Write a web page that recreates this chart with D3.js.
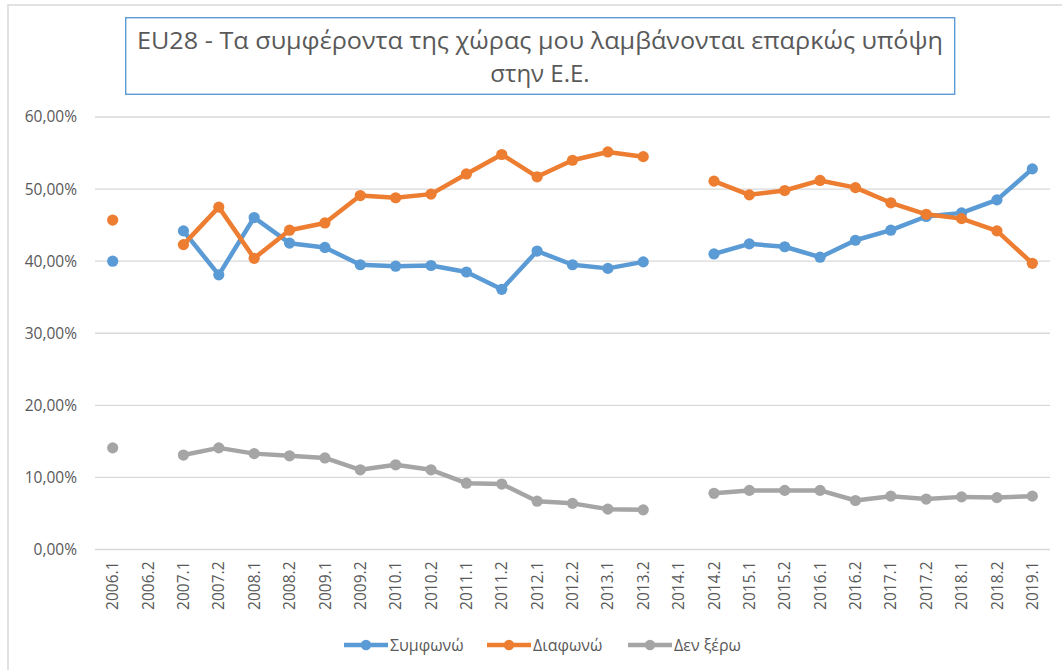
<!DOCTYPE html>
<html>
<head>
<meta charset="utf-8">
<script src="https://cdn.jsdelivr.net/npm/d3@7"></script>
<style>
  html, body { margin: 0; padding: 0; background: #fff; }
  svg { display: block; }
  text { font-family: "Open Sans", "Noto Sans", sans-serif; fill: #595959; }
</style>
</head>
<body>
<svg id="chart" width="1062" height="670"></svg>
<script>
// ---- Data ----
const categories = ["2006.1","2006.2","2007.1","2007.2","2008.1","2008.2","2009.1","2009.2","2010.1","2010.2","2011.1","2011.2","2012.1","2012.2","2013.1","2013.2","2014.1","2014.2","2015.1","2015.2","2016.1","2016.2","2017.1","2017.2","2018.1","2018.2","2019.1"];
const agree    = [40.0, null, 44.2, 38.1, 46.05, 42.5, 41.9, 39.5, 39.3, 39.4, 38.5, 36.1, 41.4, 39.5, 39.0, 39.9, null, 41.0, 42.4, 42.0, 40.55, 42.9, 44.3, 46.2, 46.7, 48.5, 52.8];
const disagree = [45.7, null, 42.3, 47.5, 40.4, 44.3, 45.3, 49.1, 48.8, 49.3, 52.1, 54.8, 51.7, 54.0, 55.15, 54.5, null, 51.1, 49.2, 49.8, 51.2, 50.2, 48.1, 46.5, 45.9, 44.2, 39.7];
const dontKnow = [14.1, null, 13.1, 14.1, 13.3, 13.0, 12.7, 11.06, 11.75, 11.06, 9.2, 9.08, 6.7, 6.4, 5.6, 5.5, null, 7.8, 8.2, 8.2, 8.2, 6.8, 7.4, 7.0, 7.3, 7.2, 7.4];
const seriesNames = ["Συμφωνώ", "Διαφωνώ", "Δεν ξέρω"];
const yTicks = [0, 10, 20, 30, 40, 50, 60];
const titleLines = ["EU28 - Τα συμφέροντα της χώρας μου λαμβάνονται  επαρκώς υπόψη", "στην Ε.Ε."];

// ---- Styles ----
const colors = ["#5B9BD5", "#ED7D31", "#A5A5A5"];
const seriesData = [agree, disagree, dontKnow];

const svg = d3.select("#chart");

// chart area border (only left/top visible)
svg.append("rect")
  .attr("x", 8).attr("y", 5).attr("width", 1200).attr("height", 800)
  .attr("fill", "none").attr("stroke", "#d9d9d9").attr("stroke-width", 1.5);

const x = d3.scaleBand().domain(categories).range([95, 1050]).padding(0);
const cx = c => x(c) + x.bandwidth() / 2;
const y = d3.scaleLinear().domain([0, 60]).range([549.5, 117]);

// gridlines
svg.append("g").selectAll("line").data(yTicks).join("line")
  .attr("x1", 95).attr("x2", 1050)
  .attr("y1", d => y(d)).attr("y2", d => y(d))
  .attr("stroke", "#d9d9d9").attr("stroke-width", 1.3);

// y axis labels
const yAxis = d3.axisLeft(y).tickValues(yTicks)
  .tickFormat(d => d.toFixed(2).replace(".", ",") + "%")
  .tickSize(0).tickPadding(0);
const yg = svg.append("g").attr("transform", "translate(77,0)").call(yAxis);
yg.select(".domain").remove();
yg.selectAll("text").attr("font-size", 15.5).attr("fill", "#595959")
  .style("font-family", '"Open Sans", sans-serif');

// x axis labels
const xAxis = d3.axisBottom(x).tickSize(0).tickPadding(0);
const xg = svg.append("g").attr("transform", "translate(0,561.5)").call(xAxis);
xg.select(".domain").remove();
xg.selectAll("text")
  .attr("font-size", 15.5).attr("fill", "#595959")
  .style("font-family", '"Open Sans", sans-serif')
  .attr("y", 0).attr("dy", "0.36em").attr("x", 0)
  .attr("transform", "rotate(-90)")
  .attr("text-anchor", "end");

// series
seriesData.forEach((vals, i) => {
  const pts = categories.map((c, j) => ({c, v: vals[j]}));
  const line = d3.line().defined(d => d.v != null).x(d => cx(d.c)).y(d => y(d.v));
  svg.append("path").datum(pts)
    .attr("d", line).attr("fill", "none")
    .attr("stroke", colors[i]).attr("stroke-width", 4.5)
    .attr("stroke-linejoin", "round").attr("stroke-linecap", "round");
  svg.append("g").selectAll("circle").data(pts.filter(d => d.v != null)).join("circle")
    .attr("cx", d => cx(d.c)).attr("cy", d => y(d.v)).attr("r", 5.6)
    .attr("fill", colors[i]);
});

// title box
svg.append("rect").attr("x", 125.7).attr("y", 17.7).attr("width", 829).attr("height", 76.6)
  .attr("fill", "#fff").attr("stroke", "#5B9BD5").attr("stroke-width", 1.4);
const t1 = svg.append("text").attr("x", 540).attr("y", 48.5).attr("text-anchor", "middle")
  .attr("font-size", 24).attr("fill", "#595959").text(titleLines[0]);
const w1 = t1.node().getComputedTextLength();
if (w1 > 0) t1.attr("textLength", 806).attr("lengthAdjust", "spacingAndGlyphs");
svg.append("text").attr("x", 540).attr("y", 82).attr("text-anchor", "middle")
  .attr("font-size", 24).attr("fill", "#595959").text(titleLines[1]);

// legend
const legendX = [344, 487, 628];
const lg = svg.append("g");
seriesNames.forEach((name, i) => {
  const g = lg.append("g").attr("transform", `translate(${legendX[i]},645)`);
  g.append("line").attr("x1", 0).attr("x2", 44).attr("y1", 0).attr("y2", 0)
    .attr("stroke", colors[i]).attr("stroke-width", 4.5);
  g.append("circle").attr("cx", 22).attr("cy", 0).attr("r", 5.2).attr("fill", colors[i]);
  g.append("text").attr("x", 46).attr("y", 0).attr("dy", "0.35em")
    .attr("font-size", 16).attr("fill", "#595959").text(name);
});
</script>
</body>
</html>
